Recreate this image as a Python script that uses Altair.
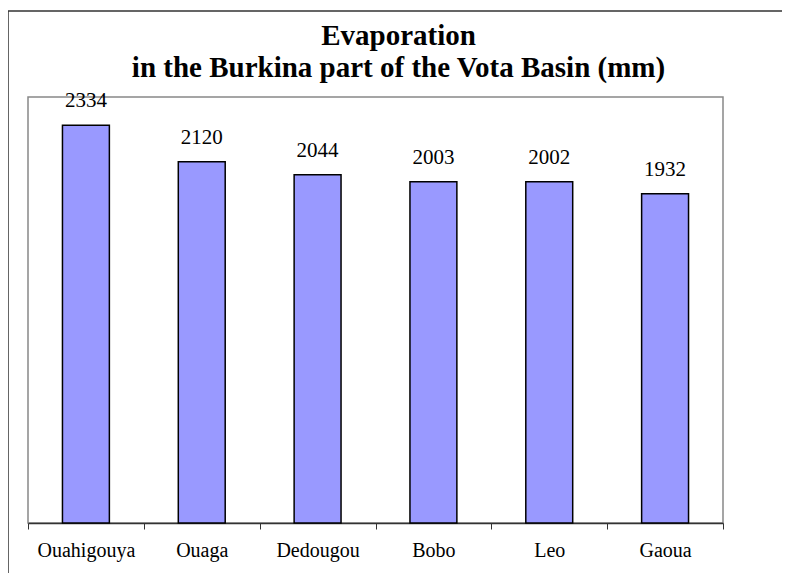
import altair as alt
import pandas as pd

stations = ["Ouahigouya", "Ouaga", "Dedougou", "Bobo", "Leo", "Gaoua"]
evaporation = [2334, 2120, 2044, 2003, 2002, 1932]
title_lines = ["Evaporation", "in the Burkina part of the Vota Basin (mm)"]

df = pd.DataFrame({"station": stations, "evap": evaporation})
one = pd.DataFrame({"k": [0]})

serif = "'Times New Roman', 'Liberation Serif', Times, serif"

x = alt.X(
    "station:N",
    sort=stations,
    title=None,
    scale=alt.Scale(paddingInner=0, paddingOuter=0),
    axis=alt.Axis(
        labelAngle=0,
        labelFont=serif,
        labelFontSize=20,
        labelColor="black",
        labelPadding=11,
        tickBand="extent",
        tickSize=6,
        tickColor="#333333",
        domainColor="#333333",
        domainWidth=1.5,
    ),
)
y = alt.Y("evap:Q", scale=alt.Scale(domain=[0, 2500]), axis=None)

frame = alt.Chart(one).mark_rect(
    fill="transparent", stroke="#333333", strokeWidth=1.5, clip=False
).encode(
    x=alt.value(-20), x2=alt.value(800), y=alt.value(-86), y2=alt.value(600)
)

t1 = alt.Chart(one).mark_text(
    text=title_lines[0], font=serif, fontSize=29, fontWeight="bold",
    color="black", baseline="alphabetic", align="center"
).encode(x=alt.value(370.5), y=alt.value(-52))
t2 = alt.Chart(one).mark_text(
    text=title_lines[1], font=serif, fontSize=29, fontWeight="bold",
    color="black", baseline="alphabetic", align="center"
).encode(x=alt.value(370.5), y=alt.value(-20))

bars = alt.Chart(df).mark_bar(
    color="#9999FF", stroke="black", strokeWidth=1.5, width=alt.RelativeBandSize(0.405)
).encode(x=x, y=y)

labels = alt.Chart(df).mark_text(
    font=serif, fontSize=21, baseline="bottom", dy=-14, color="black"
).encode(x=x, y=y, text="evap:Q")

chart = alt.layer(frame, t1, t2, bars, labels).properties(
    width=695,
    height=426,
    padding={"left": 20, "top": 89, "right": 59, "bottom": 50},
    autosize=alt.AutoSizeParams(type="none"),
).configure_view(
    stroke="#888888", strokeWidth=1.5
).configure_axis(labelFont=serif, labelFontSize=20).configure_text(font=serif)

chart.save("out.html", embed_options={"renderer": "svg", "actions": False})
